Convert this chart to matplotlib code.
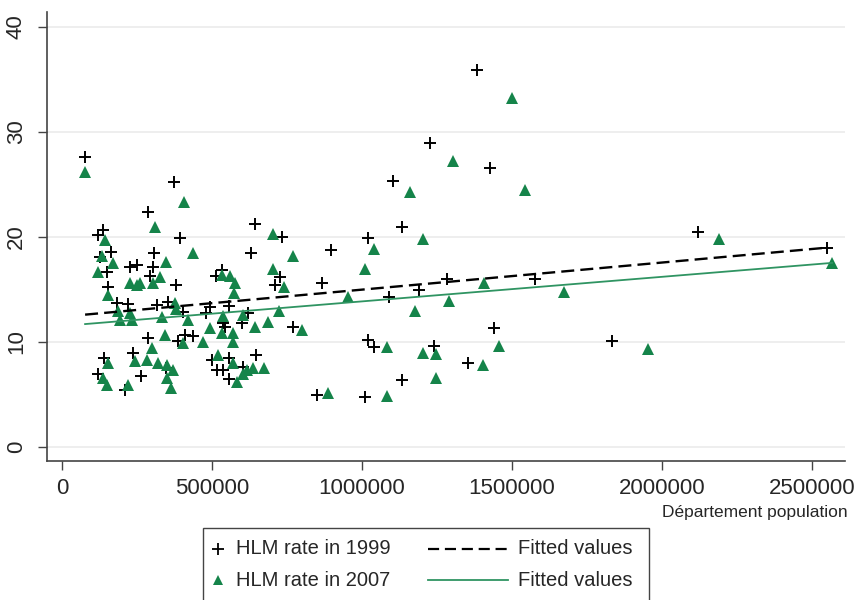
import numpy as np
import matplotlib
matplotlib.use('Agg')
import matplotlib.pyplot as plt
from matplotlib.lines import Line2D
from matplotlib.patches import Rectangle

plt.rcParams['font.family'] = ['Liberation Sans', 'DejaVu Sans']

# HLM rate 1999 (population, rate in %)
pop_1999 = [77000, 373000, 287000, 643000, 1103000, 1133000, 393000, 733000, 1020000, 137000,
            120000, 163000, 307000, 630000, 897000, 127000, 227000, 250000, 303000, 150000,
            293000, 533000, 513000, 727000, 710000, 867000, 380000, 153000, 1283000, 1190000,
            1090000, 183000, 220000, 317000, 353000, 493000, 480000, 557000, 403000, 620000,
            600000, 537000, 543000, 770000, 287000, 387000, 410000, 437000, 140000, 237000,
            647000, 500000, 557000, 120000, 263000, 347000, 517000, 537000, 557000, 210000,
            850000, 1010000, 1020000, 1040000, 1133000, 1240000, 1383000, 1427000, 2120000, 2550000,
            1577000, 1440000, 1833000, 1353000, 1227000, 603000]
hlm_1999 = [27.6, 25.2, 22.4, 21.2, 25.3, 21.0, 19.9, 20.0, 19.9, 20.7,
            20.2, 18.6, 18.5, 18.5, 18.8, 18.1, 17.1, 17.3, 17.1, 16.7,
            16.3, 16.9, 16.3, 16.2, 15.4, 15.6, 15.4, 15.2, 16.0, 15.0,
            14.3, 13.7, 13.6, 13.5, 13.8, 13.3, 12.8, 13.4, 12.9, 12.8,
            11.8, 11.8, 11.4, 11.4, 10.4, 10.1, 10.7, 10.6, 8.5, 9.0,
            8.8, 8.3, 8.5, 7.0, 6.8, 7.5, 7.3, 7.3, 6.5, 5.4,
            5.0, 4.8, 10.2, 9.5, 6.4, 9.6, 35.9, 26.6, 20.5, 19.0,
            16.0, 11.3, 10.1, 8.0, 29.0, 7.6]

# HLM rate 2007
pop_2007 = [77000, 407000, 310000, 703000, 1160000, 1203000, 437000, 770000, 1040000, 1010000,
            143000, 133000, 170000, 120000, 347000, 227000, 250000, 260000, 303000, 327000,
            533000, 560000, 577000, 573000, 703000, 740000, 153000, 953000, 1177000, 1290000,
            187000, 227000, 193000, 233000, 377000, 380000, 333000, 420000, 493000, 537000,
            533000, 570000, 570000, 603000, 643000, 687000, 723000, 800000, 343000, 403000,
            470000, 300000, 153000, 243000, 283000, 320000, 350000, 370000, 350000, 520000,
            570000, 617000, 637000, 673000, 583000, 137000, 150000, 220000, 363000, 603000,
            887000, 1083000, 1083000, 1203000, 1247000, 1247000, 1500000, 1303000, 1543000, 2190000,
            2567000, 1407000, 1673000, 1457000, 1403000, 1953000]
hlm_2007 = [26.2, 23.3, 21.0, 20.3, 24.3, 19.8, 18.5, 18.2, 18.9, 17.0,
            19.7, 18.2, 17.5, 16.7, 17.6, 15.6, 15.4, 15.6, 15.6, 16.2,
            16.4, 16.3, 15.6, 14.7, 17.0, 15.2, 14.5, 14.3, 13.0, 13.9,
            13.0, 12.8, 12.1, 12.1, 13.7, 13.1, 12.4, 12.1, 11.3, 12.5,
            10.9, 10.9, 10.0, 12.6, 11.4, 11.9, 13.0, 11.1, 10.7, 9.9,
            10.0, 9.4, 8.0, 8.2, 8.3, 8.0, 7.8, 7.3, 6.6, 8.8,
            8.0, 7.3, 7.5, 7.5, 6.2, 6.6, 5.9, 5.9, 5.6, 7.0,
            5.1, 4.9, 9.5, 9.0, 8.9, 6.6, 33.2, 27.2, 24.5, 19.8,
            17.5, 15.6, 14.8, 9.6, 7.8, 9.3]

# fitted lines (intercept, slope per inhabitant)
fit_1999 = (12.41, 2.58e-6)
fit_2007 = (11.53, 2.34e-6)

x_ticks = [0, 500000, 1000000, 1500000, 2000000, 2500000]
y_ticks = [0, 10, 20, 30, 40]

GREEN = '#15844a'
FIT_GREEN = '#2f9462'
TXT = '#262626'

fig = plt.figure(figsize=(8.57, 6.0), dpi=100)
W, H = 857, 600
ax = fig.add_axes([47 / W, 1 - 461 / H, (845 - 47) / W, (461 - 12) / H])

for y in y_ticks:
    ax.axhline(y, color='#ebebeb', lw=1.2, zorder=0)

ax.plot(pop_1999, hlm_1999, linestyle='none', marker='+', ms=9, mew=1.4,
        color='black', zorder=3)
ax.plot(pop_2007, hlm_2007, linestyle='none', marker='^', ms=8.5, mew=0,
        color=GREEN, zorder=3)

xs = np.array([min(pop_1999), max(pop_1999)])
ax.plot(xs, fit_1999[0] + fit_1999[1] * xs, color='black', lw=1.7,
        linestyle=(0, (5.5, 2.6)), zorder=4)
xs = np.array([min(pop_2007), max(pop_2007)])
ax.plot(xs, fit_2007[0] + fit_2007[1] * xs, color=FIT_GREEN, lw=1.3, zorder=4)

ax.set_xlim(-50000, 2610000)
ax.set_ylim(-1.33, 41.43)
ax.set_xticks(x_ticks)
ax.set_xticklabels([str(v) for v in x_ticks])
ax.set_yticks(y_ticks)
ax.set_yticklabels([str(v) for v in y_ticks], rotation=90, va='center')
ax.tick_params(direction='out', length=6.5, width=1.0, colors='#444444',
               labelcolor=TXT, labelsize=16)
ax.tick_params(axis='x', pad=6)
ax.tick_params(axis='y', pad=8)
for s in ['top', 'right']:
    ax.spines[s].set_visible(False)
for s in ['left', 'bottom']:
    ax.spines[s].set_color('#444444')
    ax.spines[s].set_linewidth(1.2)

fig.text(848 / W, 1 - 512 / H, 'Département population', ha='right',
         va='center', fontsize=12.5, color=TXT)

# legend box drawn by hand (two columns with different handle widths)
fig.patches.append(Rectangle((203 / W, 1 - 602 / H), (649 - 203) / W, (602 - 528) / H,
                             transform=fig.transFigure, fill=False,
                             edgecolor='#444444', lw=1.0))
rows = [549, 580]
fig.add_artist(Line2D([218 / W], [1 - rows[0] / H], marker='+', ms=8, mew=1.3,
                      color='black', transform=fig.transFigure))
fig.add_artist(Line2D([218 / W], [1 - rows[1] / H], marker='^', ms=7.5, mew=0,
                      color=GREEN, transform=fig.transFigure))
fig.add_artist(Line2D([428 / W, 508 / W], [1 - rows[0] / H] * 2, color='black', lw=1.6,
                      linestyle=(0, (5, 2.6)), transform=fig.transFigure))
fig.add_artist(Line2D([428 / W, 508 / W], [1 - rows[1] / H] * 2, color=FIT_GREEN, lw=1.3,
                      transform=fig.transFigure))
labels = [('HLM rate in 1999', 'Fitted values'), ('HLM rate in 2007', 'Fitted values')]
for r, (l1, l2) in zip(rows, labels):
    fig.text(236 / W, 1 - r / H, l1, ha='left', va='center', fontsize=14.5, color=TXT)
    fig.text(518 / W, 1 - r / H, l2, ha='left', va='center', fontsize=14.5, color=TXT)

plt.savefig('out.png', dpi=100)
